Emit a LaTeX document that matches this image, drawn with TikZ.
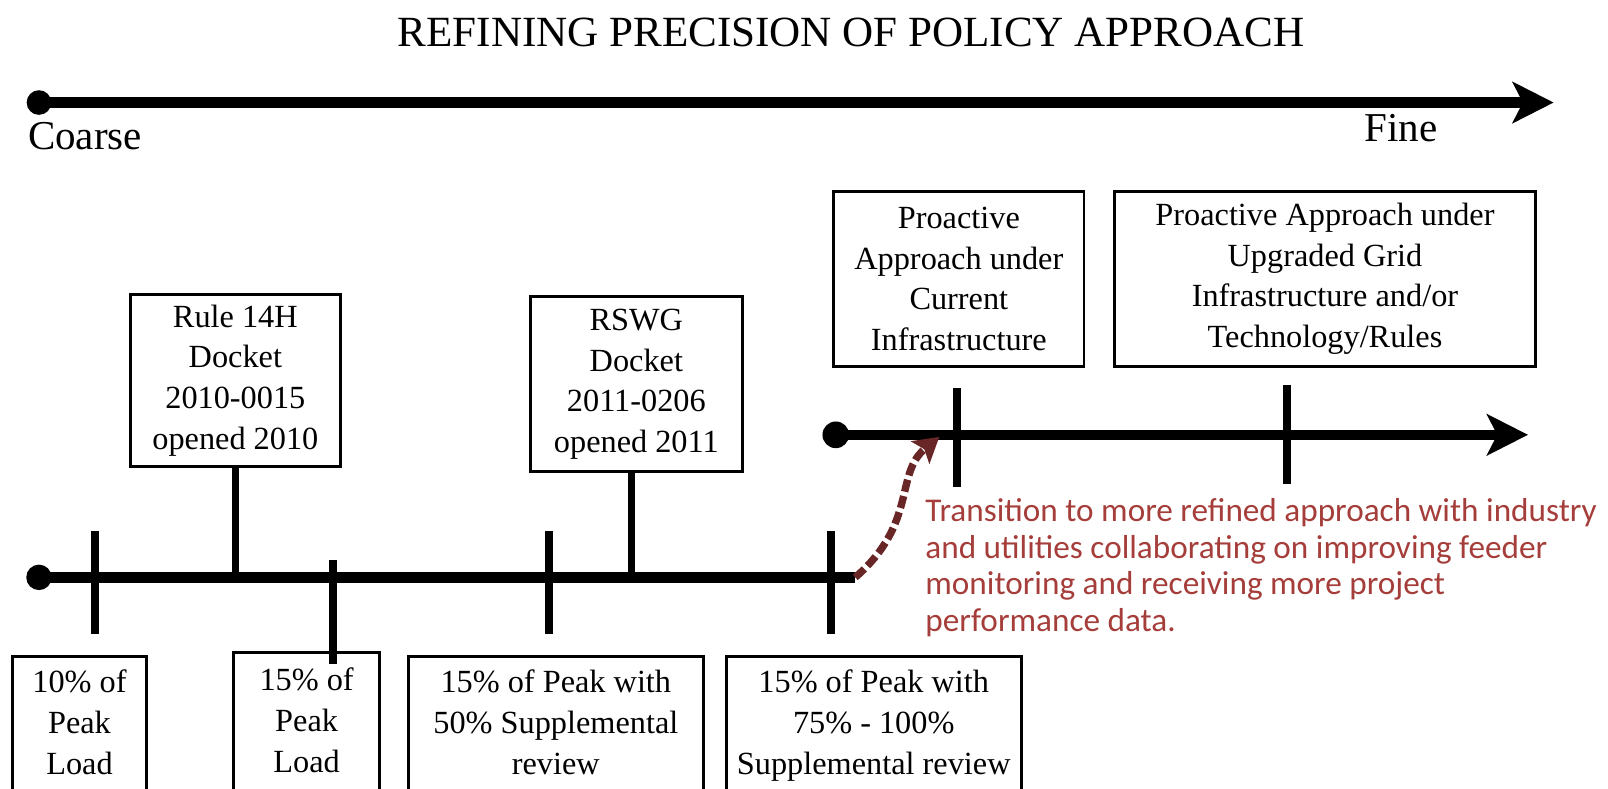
\documentclass[tikz,border=0pt]{standalone}
\usepackage{fontspec}
\setmainfont{Liberation Serif}
\newfontfamily\calib{Carlito}
\usetikzlibrary{arrows.meta}
\definecolor{redtxt}{RGB}{165,62,58}
\definecolor{darkred}{RGB}{105,38,38}
\begin{document}
\begin{tikzpicture}[x=0.5pt,y=-0.5pt,
  box/.style={draw, line width=1.4pt, inner sep=0pt, align=center,
    font=\fontsize{15.75}{19.8}\selectfont},
  lowbox/.style={draw, line width=1.4pt, inner sep=0pt, minimum height=80pt},
  lowtext/.style={inner sep=0pt, align=center, anchor=north,
    font=\fontsize{15.75}{20}\selectfont},
  axis/.style={line width=5pt},
  tickline/.style={line width=3.8pt},
  conn/.style={line width=3.6pt},
  redarr/.style={darkred, line width=3.6pt, dash pattern=on 6pt off 2.2pt,
    -{Stealth[length=12pt,width=14pt,inset=2.5pt]}},
  bigtip/.style={-{Stealth[length=20pt,width=20pt,inset=5pt]}}
]
\useasboundingbox (0,0) rectangle (1568,769);
\clip (0,0) rectangle (1568,769);

% title
\node[font=\fontsize{21}{24}\selectfont] (title) at (830,32) {REFINING PRECISION OF POLICY APPROACH};

% top axis
\coordinate (A0) at (38,100);
\coordinate (A1) at (1515,100);
\draw[axis, bigtip] (A0) -- (A1);
\fill (A0) circle (6pt);
\node[font=\fontsize{20}{24}\selectfont, anchor=west, inner sep=0pt] (coarse) at (27,133) {Coarse};
\node[font=\fontsize{20}{24}\selectfont, inner sep=0pt] (fine) at (1366,125) {Fine};

% upper boxes
\node[box, minimum width=102.5pt, minimum height=84pt] (r14) at (229.5,371)
  {Rule 14H\\Docket\\2010-0015\\opened 2010};
\node[box, minimum width=103.5pt, minimum height=85.5pt] (rswg) at (620.5,374.5)
  {RSWG\\Docket\\2011-0206\\opened 2011};
\node[box, minimum width=122pt, minimum height=85pt] (pcur) at (935,272)
  {Proactive\\Approach under\\Current\\Infrastructure};
\node[box, minimum width=205pt, minimum height=85pt] (pupg) at (1292,272)
  {Proactive Approach under\\Upgraded Grid\\Infrastructure and/or\\Technology/Rules};

% main timeline
\coordinate (L0) at (38,563);
\coordinate (L1) at (834,563);
\draw[line width=5.2pt] (L0) -- (L1);
\fill (L0) circle (6.2pt);
\draw[conn] (r14.south) -- (r14.south |- L0);
\draw[conn] ([xshift=-2.5pt]rswg.south) -- ([xshift=-2.5pt]rswg.south |- L0);
\coordinate (k1a) at (93,518);  \coordinate (k1b) at (93,618);
\coordinate (k2a) at (325,546); \coordinate (k2b) at (325,647);
\coordinate (k3a) at (535,518); \coordinate (k3b) at (535,618);
\coordinate (k4a) at (810,518); \coordinate (k4b) at (810,618);
\draw[tickline] (k1a) -- (k1b);
\draw[tickline] (k2a) -- (k2b);
\draw[tickline] (k3a) -- (k3b);
\draw[tickline] (k4a) -- (k4b);

% bottom boxes
\node[lowbox, minimum width=65.5pt] (b1) at (77.5,720) {};
\node[lowbox, minimum width=71pt] (b2) at (299,716) {};
\node[lowbox, minimum width=144pt] (b3) at (542,720) {};
\node[lowbox, minimum width=144pt] (b4) at (852,720) {};
\node[lowtext] (t1) at (77.5,653) {10\% of\\Peak\\Load};
\node[lowtext] (t2) at (299,651) {15\% of\\Peak\\Load};
\node[lowtext] (t3) at (542,653) {15\% of Peak with\\50\% Supplemental\\review};
\node[lowtext] (t4) at (852,653) {15\% of Peak with\\75\% - 100\%\\Supplemental review};

% second timeline
\coordinate (S0) at (815,424);
\coordinate (S1) at (1490,424);
\draw[axis, bigtip] (S0) -- (S1);
\fill (S0) circle (6.5pt);
\coordinate (k5a) at (933,378);  \coordinate (k5b) at (933,475);
\coordinate (k6a) at (1255,375); \coordinate (k6b) at (1255,472);
\draw[tickline] (k5a) -- (k5b);
\draw[tickline] (k6a) -- (k6b);

% transition arrow
\coordinate (T1) at (916,426);
\draw[redarr] (L1) .. controls (895,510) and (872,462) .. (T1);

\node[anchor=north west, inner sep=0pt, align=left, text=redtxt,
  font=\calib\fontsize{16.2}{17.8}\selectfont] (note) at (902,486)
  {Transition to more refined approach with industry\\
   and utilities collaborating on improving feeder\\
   monitoring and receiving more project\\
   performance data.};
\end{tikzpicture}
\end{document}
